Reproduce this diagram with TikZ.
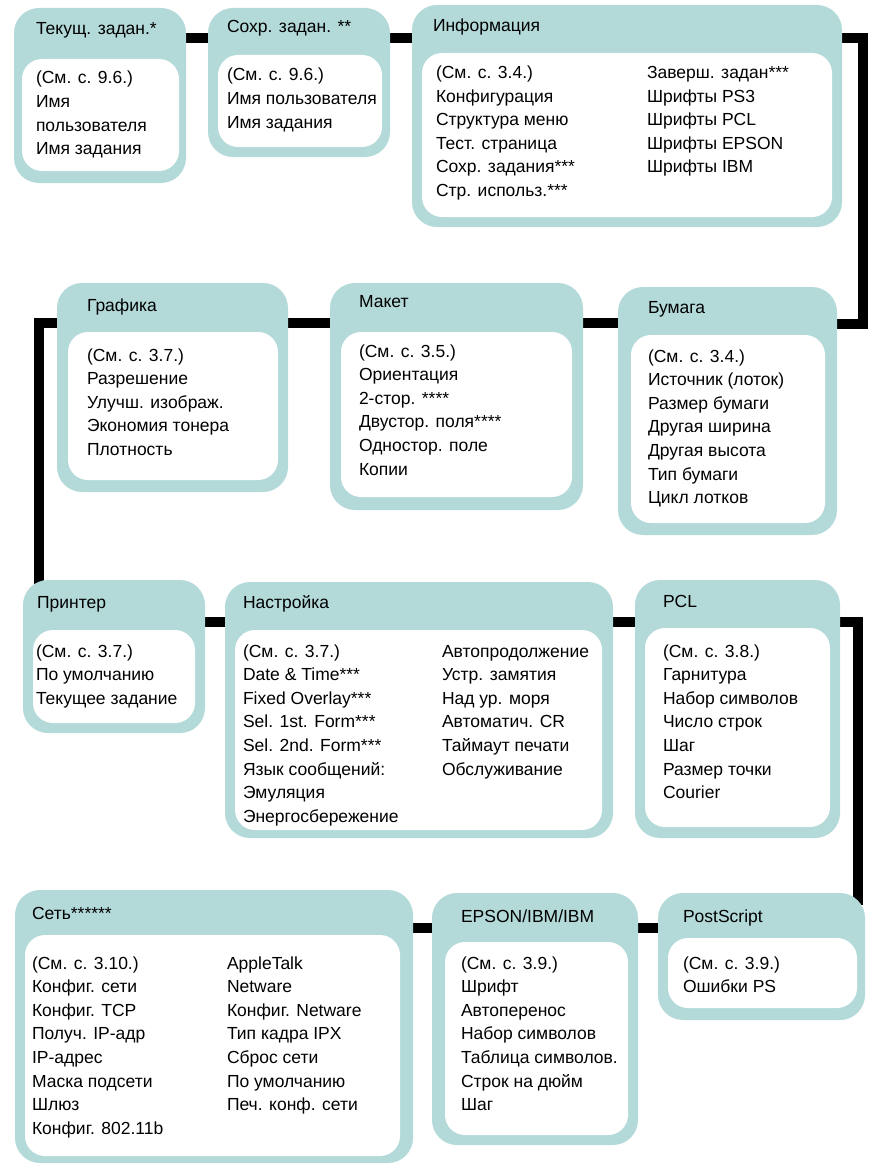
\documentclass[tikz,border=0pt]{standalone}
\usepackage{fontspec}
\setmainfont{Liberation Sans}
\usetikzlibrary{calc}
\definecolor{tealbox}{HTML}{B3D9D9}
\pgfdeclarelayer{background}
\pgfsetlayers{background,main}
\tikzset{
  outerbox/.style={rectangle, rounded corners=25pt, fill=tealbox, draw=none, inner sep=0pt, outer sep=0pt, anchor=north west},
  innerbox/.style={rectangle, rounded corners=20pt, fill=white, draw=none, inner sep=0pt, outer sep=0pt, anchor=north west},
  txt/.style={anchor=base west, inner sep=0pt, outer sep=0pt, font=\fontsize{17.5}{23.6}\selectfont, text=black},
  conn/.style={line width=10pt, draw=black, line cap=butt, line join=miter}
}
\newcommand\itemlines[4]{%
  \foreach \t [count=\i from 0] in {#4} {\node[txt] (#1-\i) at (#2,{#3+\i*23.6}) {\t};}}
\begin{document}
\begin{tikzpicture}[x=1pt,y=-1pt]
\useasboundingbox (0,0) rectangle (871,1164);
% boxes
\node[outerbox, minimum width=172pt, minimum height=175pt] (A) at (14,8) {};
\node[innerbox, minimum width=157pt, minimum height=112pt] (Ai) at (22,59) {};
\node[outerbox, minimum width=182pt, minimum height=149pt] (B) at (208,8) {};
\node[innerbox, minimum width=164pt, minimum height=92pt] (Bi) at (218,55) {};
\node[outerbox, minimum width=430pt, minimum height=222pt] (C) at (412,5) {};
\node[innerbox, minimum width=410pt, minimum height=164pt] (Ci) at (422,53) {};
\node[outerbox, minimum width=219pt, minimum height=248pt] (D) at (618,287) {};
\node[innerbox, minimum width=194pt, minimum height=188pt] (Di) at (631,335) {};
\node[outerbox, minimum width=253pt, minimum height=227pt] (E) at (330,283) {};
\node[innerbox, minimum width=231pt, minimum height=165pt] (Ei) at (341,332) {};
\node[outerbox, minimum width=231pt, minimum height=209pt] (F) at (57,283) {};
\node[innerbox, minimum width=210pt, minimum height=148pt] (Fi) at (68,332) {};
\node[outerbox, minimum width=182pt, minimum height=153pt] (G) at (23,580) {};
\node[innerbox, minimum width=162pt, minimum height=93pt] (Gi) at (33,630) {};
\node[outerbox, minimum width=388pt, minimum height=256pt] (H) at (225,582) {};
\node[innerbox, minimum width=367pt, minimum height=200pt] (Hi) at (235,630) {};
\node[outerbox, minimum width=205pt, minimum height=258pt] (I) at (635,580) {};
\node[innerbox, minimum width=185pt, minimum height=199pt] (Ii) at (645,628) {};
\node[outerbox, minimum width=398pt, minimum height=273pt] (J) at (15,890) {};
\node[innerbox, minimum width=375pt, minimum height=221pt] (Ji) at (25,935) {};
\node[outerbox, minimum width=206pt, minimum height=252pt] (K) at (432,893) {};
\node[innerbox, minimum width=183pt, minimum height=193pt] (Ki) at (445,942) {};
\node[outerbox, minimum width=207pt, minimum height=127pt] (L) at (658,893) {};
\node[innerbox, minimum width=189pt, minimum height=70pt] (Li) at (668,938) {};
% titles
\node[txt] (At) at (36,35) {Текущ. задан.*};
\node[txt] (Bt) at (227,33) {Сохр. задан. **};
\node[txt] (Ct) at (433,32) {Информация};
\node[txt] (Dt) at (648,313) {Бумага};
\node[txt] (Et) at (359,307) {Макет};
\node[txt] (Ft) at (87,311) {Графика};
\node[txt] (Gt) at (37,608) {Принтер};
\node[txt] (Ht) at (243,608) {Настройка};
\node[txt] (It) at (663,607) {PCL};
\node[txt] (Jt) at (32,919) {Сеть******};
\node[txt] (Kt) at (461,922) {EPSON/IBM/IBM};
\node[txt] (Lt) at (683,922) {PostScript};
% items
\itemlines{Al}{36}{84}{(См. с. 9.6.),Имя,пользователя,Имя задания}
\itemlines{Bl}{227}{81}{(См. с. 9.6.),Имя пользователя,Имя задания}
\itemlines{Cl}{436}{78.5}{(См. с. 3.4.),Конфигурация,Структура меню,Тест. страница,Сохр. задания***,Стр. использ.***}
\itemlines{Cr}{647}{78.5}{Заверш. задан***,Шрифты PS3,Шрифты PCL,Шрифты EPSON,Шрифты IBM}
\itemlines{Dl}{648}{362}{(См. с. 3.4.),Источник (лоток),Размер бумаги,Другая ширина,Другая высота,Тип бумаги,Цикл лотков}
\itemlines{El}{359}{357}{(См. с. 3.5.),Ориентация,2-стор. ****,Двустор. поля****,Одностор. поле,Копии}
\itemlines{Fl}{87}{361}{(См. с. 3.7.),Разрешение,Улучш. изображ.,Экономия тонера,Плотность}
\itemlines{Gl}{36}{657}{(См. с. 3.7.),По умолчанию,Текущее задание}
\itemlines{Hl}{243}{657}{(См. с. 3.7.),Date \& Time***,Fixed Overlay***,Sel. 1st. Form***,Sel. 2nd. Form***,Язык сообщений:,Эмуляция,Энергосбережение}
\itemlines{Hr}{442}{657}{Автопродолжение,Устр. замятия,Над ур. моря,Автоматич. CR,Таймаут печати,Обслуживание}
\itemlines{Il}{663}{657}{(См. с. 3.8.),Гарнитура,Набор символов,Число строк,Шаг,Размер точки,Courier}
\itemlines{Jl}{32}{969}{(См. с. 3.10.),Конфиг. сети,Конфиг. TCP,Получ. IP-адр,IP-адрес,Маска подсети,Шлюз,Конфиг. 802.11b}
\itemlines{Jr}{227}{969}{AppleTalk,Netware,Конфиг. Netware,Тип кадра IPX,Сброс сети,По умолчанию,Печ. конф. сети}
\itemlines{Kl}{461}{969}{(См. с. 3.9.),Шрифт,Автоперенос,Набор символов,Таблица символов.,Строк на дюйм,Шаг}
\itemlines{Ll}{683}{969}{(См. с. 3.9.),Ошибки PS}
% connectors
\begin{pgfonlayer}{background}
\draw[conn] ($(A.north east)+(-5,30)$) -- ($(B.north west)+(5,30)$);
\draw[conn] ($(B.north east)+(-5,30)$) -- ($(C.north west)+(5,33)$);
\draw[conn] ($(C.north east)+(-5,33)$) -| ($(D.north east)+(26,37)$) -- ($(D.north east)+(-5,37)$);
\draw[conn] ($(E.north east)+(-5,40)$) -- ($(D.north west)+(5,36)$);
\draw[conn] ($(F.north east)+(-5,40)$) -- ($(E.north west)+(5,40)$);
\draw[conn] ($(F.north west)+(5,40)$) -| ($(G.north west)+(16,20)$);
\draw[conn] ($(G.north east)+(-5,42)$) -- ($(H.north west)+(5,40)$);
\draw[conn] ($(H.north east)+(-5,40)$) -- ($(I.north west)+(5,42)$);
\draw[conn] ($(I.north east)+(-5,42)$) -| ($(L.north east)+(-7,12)$);
\draw[conn] ($(K.north east)+(-5,35)$) -- ($(L.north west)+(5,35)$);
\draw[conn] ($(J.north east)+(-5,38)$) -- ($(K.north west)+(5,35)$);
\end{pgfonlayer}
\end{tikzpicture}
\end{document}
